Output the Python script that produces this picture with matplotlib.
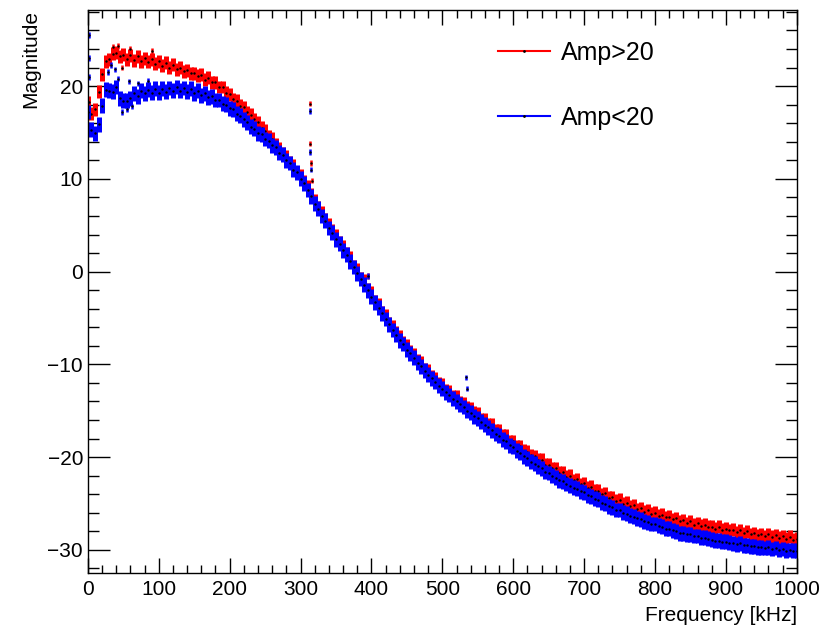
import matplotlib
matplotlib.use("Agg")
import matplotlib.pyplot as plt
from matplotlib.lines import Line2D
from matplotlib.ticker import MultipleLocator

plt.rcParams['font.family'] = ['Liberation Sans', 'DejaVu Sans']

# frequency grid (kHz), one point every 5 kHz
freq = list(range(0, 1001, 5))

# Amp>20 magnitudes
amp_hi = [
    18.2, 17.0, 17.5, 19.4, 21.3, 22.7, 22.9, 23.5, 23.6, 23.2,
    23.4, 22.9, 23.3, 22.8, 23.2, 22.7, 23.0, 22.6, 22.9, 22.4,
    22.7, 22.2, 22.5, 22.0, 22.3, 21.8, 22.0, 21.6, 21.7, 21.4,
    21.4, 21.1, 21.2, 20.7, 20.9, 20.4, 20.4, 19.9, 19.9, 19.3,
    19.1, 18.6, 18.4, 17.9, 17.7, 17.2, 16.9, 16.4, 16.1, 15.5,
    15.2, 14.6, 14.3, 13.7, 13.3, 12.7, 12.4, 11.8, 11.4, 10.7,
    10.4, 9.7, 9.2, 8.3, 7.7, 6.9, 6.4, 5.6, 5.1, 4.4,
    3.9, 3.1, 2.7, 1.9, 1.5, 0.6, 0.2, -0.7, -1.0, -1.9,
    -2.3, -3.2, -3.5, -4.4, -4.7, -5.6, -5.9, -6.6, -7.0, -7.6,
    -8.0, -8.6, -8.9, -9.6, -9.8, -10.5, -10.7, -11.3, -11.5, -12.1,
    -12.2, -12.8, -12.9, -13.5, -13.5, -14.1, -14.2, -14.7, -14.8, -15.2,
    -15.3, -15.9, -15.9, -16.5, -16.5, -17.1, -17.1, -17.7, -17.7, -18.3,
    -18.3, -18.8, -18.8, -19.3, -19.4, -19.8, -19.9, -20.3, -20.3, -20.8,
    -20.8, -21.2, -21.2, -21.7, -21.6, -22.1, -22.0, -22.5, -22.4, -22.9,
    -22.8, -23.3, -23.2, -23.6, -23.6, -24.0, -23.9, -24.4, -24.3, -24.7,
    -24.6, -25.0, -24.9, -25.3, -25.2, -25.6, -25.5, -25.9, -25.7, -26.1,
    -26.0, -26.3, -26.2, -26.5, -26.4, -26.7, -26.6, -26.9, -26.8, -27.1,
    -26.9, -27.3, -27.1, -27.4, -27.3, -27.5, -27.5, -27.7, -27.5, -27.8,
    -27.7, -27.9, -27.8, -28.1, -27.9, -28.2, -28.0, -28.3, -28.2, -28.4,
    -28.3, -28.5, -28.3, -28.6, -28.4, -28.7, -28.5, -28.8, -28.6, -28.9,
    -28.8,
]

# Amp<20 magnitudes
amp_lo = [
    17.2, 15.3, 14.9, 15.9, 17.9, 19.6, 19.5, 19.4, 19.9, 18.7,
    18.4, 18.4, 18.7, 19.2, 18.9, 19.5, 19.2, 19.6, 19.3, 19.7,
    19.3, 19.7, 19.4, 19.8, 19.5, 19.9, 19.5, 19.8, 19.4, 19.7,
    19.2, 19.5, 19.0, 19.2, 18.8, 18.9, 18.5, 18.5, 18.1, 18.0,
    17.6, 17.5, 17.0, 16.8, 16.4, 16.1, 15.6, 15.4, 14.9, 14.8,
    14.3, 14.1, 13.6, 13.4, 12.8, 12.6, 12.0, 11.7, 11.0, 10.7,
    10.0, 9.5, 8.8, 8.1, 7.3, 6.8, 6.0, 5.5, 4.7, 4.2,
    3.5, 3.0, 2.3, 1.8, 1.1, 0.5, -0.2, -0.8, -1.4, -2.0,
    -2.7, -3.3, -3.9, -4.5, -5.1, -5.7, -6.3, -6.8, -7.4, -7.8,
    -8.4, -8.8, -9.3, -9.8, -10.2, -10.7, -11.1, -11.5, -11.9, -12.3,
    -12.6, -13.0, -13.3, -13.7, -14.0, -14.3, -14.6, -15.0, -15.2, -15.6,
    -15.8, -16.2, -16.5, -16.8, -17.1, -17.5, -17.7, -18.1, -18.3, -18.7,
    -18.9, -19.3, -19.5, -19.9, -20.1, -20.5, -20.7, -21.0, -21.2, -21.6,
    -21.7, -22.0, -22.2, -22.5, -22.6, -22.9, -23.1, -23.3, -23.4, -23.7,
    -23.8, -24.1, -24.2, -24.5, -24.6, -24.9, -25.0, -25.3, -25.4, -25.7,
    -25.7, -26.0, -26.1, -26.3, -26.4, -26.6, -26.7, -26.9, -27.0, -27.2,
    -27.2, -27.4, -27.5, -27.7, -27.7, -27.9, -28.0, -28.2, -28.2, -28.3,
    -28.3, -28.5, -28.5, -28.7, -28.7, -28.8, -28.9, -29.0, -29.0, -29.1,
    -29.1, -29.2, -29.3, -29.4, -29.3, -29.5, -29.5, -29.6, -29.6, -29.7,
    -29.7, -29.8, -29.7, -29.9, -29.8, -30.0, -29.9, -30.1, -30.0, -30.1,
    -30.1,
]

hi_err = 0.7
lo_err = 0.8

# isolated points / spikes seen off the main band
hi_extra_x = [1, 2, 35, 42, 48, 60, 90, 313, 314, 315, 316, 395]
hi_extra_y = [17.3, 18.3, 24.2, 24.3, 22.0, 24.0, 23.8, 18.1, 13.8, 11.7, 9.8, -0.5]
lo_extra_x = [1, 1, 2, 28, 33, 38, 42, 48, 55, 58, 62, 70, 85,
              313, 314, 315, 395, 534, 535]
lo_extra_y = [25.5, 23.0, 21.0, 21.5, 22.3, 21.8, 20.8, 17.2, 17.5, 20.5, 17.8, 20.3, 20.6,
              17.3, 12.9, 11.0, -0.5, -11.4, -12.6]
extra_err = 0.3

fig = plt.figure(figsize=(8.37, 6.25), dpi=100)
ax = fig.add_axes([0.105, 0.083, 0.847, 0.901])

for xs, ys, err, col, lw in [(freq, amp_hi, hi_err, 'red', 3.6),
                             (hi_extra_x, hi_extra_y, extra_err, 'red', 1.8),
                             (freq, amp_lo, lo_err, 'blue', 3.6),
                             (lo_extra_x, lo_extra_y, extra_err, 'blue', 1.8)]:
    ax.errorbar(xs, ys, yerr=err, fmt='none', ecolor=col, elinewidth=lw, capsize=0)
    ax.plot(xs, ys, ls='none', marker='.', ms=1.5, color='black')

ax.set_xlim(0, 1000)
ax.set_ylim(-32.5, 28.2)
ax.xaxis.set_major_locator(MultipleLocator(100))
ax.xaxis.set_minor_locator(MultipleLocator(20))
ax.yaxis.set_major_locator(MultipleLocator(10))
ax.yaxis.set_minor_locator(MultipleLocator(2))
ax.tick_params(which='both', direction='in', top=True, right=True, width=1.0, labelsize=15)
ax.tick_params(axis='x', which='major', length=10.8, pad=5)
ax.tick_params(axis='x', which='minor', length=5.8)
ax.tick_params(axis='y', which='major', length=15.8, pad=3.5)
ax.tick_params(axis='y', which='minor', length=7.9)
for s in ax.spines.values():
    s.set_linewidth(1.0)

ax.set_xlabel('Frequency [kHz]', fontsize=15, loc='right', labelpad=5)
ax.set_ylabel('Magnitude', fontsize=15, loc='top', labelpad=5)

handles = [Line2D([], [], color='red', lw=1.5, marker='.', ms=2, mfc='black', mec='black'),
           Line2D([], [], color='blue', lw=1.5, marker='.', ms=2, mfc='black', mec='black')]
ax.legend(handles, ['Amp>20', 'Amp<20'], loc='upper left', bbox_to_anchor=(0.578, 0.945),
          frameon=False, fontsize=18, numpoints=1, handlelength=2.1, handletextpad=0.42,
          labelspacing=1.65, borderpad=0, borderaxespad=0)

fig.savefig('out.png', dpi=100)
